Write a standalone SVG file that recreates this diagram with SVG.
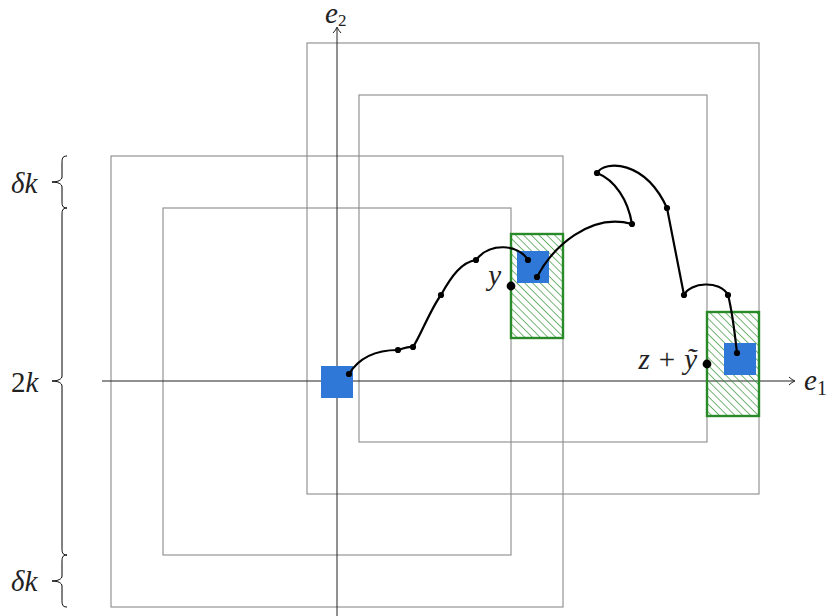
<svg xmlns="http://www.w3.org/2000/svg" width="829" height="616" viewBox="0 0 829 616">
<defs>
<style>
.box{fill:none;stroke:#8a8a8a;stroke-width:1.1}
.axis{fill:none;stroke:#222;stroke-width:1}
.hatch{fill:url(#hatch);stroke:#2a8a2a;stroke-width:2.4}
.blue{fill:#2f78d8}
.walk{fill:none;stroke:#000;stroke-width:2.2;stroke-linecap:round}
.dot{fill:#000}
.brace{fill:none;stroke:#000;stroke-width:1}
.t{font-family:"Liberation Serif","DejaVu Serif",serif;font-style:italic;font-size:29px;fill:#222}
.n{font-style:normal}
</style>
<pattern id="hatch" patternUnits="userSpaceOnUse" width="5.5" height="6" patternTransform="rotate(-45)">
<line x1="0" y1="0" x2="0" y2="6" stroke="#2a8f2a" stroke-width="1.3"/>
</pattern>
<marker id="arr" markerWidth="10" markerHeight="10" refX="7" refY="5" orient="auto" markerUnits="userSpaceOnUse">
<path d="M2,1 Q5,4 8,5 Q5,6 2,9" fill="none" stroke="#222" stroke-width="1"/>
</marker>
</defs>
<g id="boxes">
<rect id="outer-left" class="box" x="111" y="156" width="452" height="451"/>
<rect id="inner-left" class="box" x="163" y="208" width="348" height="347"/>
<rect id="outer-right" class="box" x="307" y="43" width="452" height="451"/>
<rect id="inner-right" class="box" x="359" y="95" width="348" height="347"/>
</g>
<g id="axes">
<line class="axis" x1="102" y1="381" x2="794" y2="381" marker-end="url(#arr)"/>
<line class="axis" x1="337" y1="616" x2="337" y2="28" marker-end="url(#arr)"/>
<text class="t" x="325" y="23" font-size="24">e<tspan class="n" font-size="17" dy="3">2</tspan></text>
<text class="t" x="804" y="390">e<tspan class="n" font-size="20" dy="5">1</tspan></text>
</g>
<g id="hatched">
<rect id="h1" class="hatch" x="511" y="234" width="52" height="104"/>
<rect id="h2" class="hatch" x="707" y="312" width="52" height="104"/>
</g>
<g id="squares">
<rect id="sq0" class="blue" x="321" y="366" width="32" height="32"/>
<rect id="sq1" class="blue" x="517" y="251" width="32" height="32"/>
<rect id="sq2" class="blue" x="724" y="343" width="32" height="32"/>
</g>
<g id="connectors">
<path class="walk" d="M349,374 C360,356 378,350 398,350 C403,349 407,346 413,347 C420,337 430,310 441,295 C452,275 462,262 476,260 C490,242 518,244 528,260"/>
<path class="walk" d="M537,277 C552,248 590,212 632,224 C628,200 615,180 597,173 C605,160 645,160 667,208 L684,295 C690,282 720,280 728,295 C732,310 735,335 737,353"/>
</g>
<g id="dots">
<circle class="dot" cx="349" cy="374" r="3.1"/>
<circle class="dot" cx="398" cy="350" r="3.1"/>
<circle class="dot" cx="413" cy="347" r="3.1"/>
<circle class="dot" cx="441" cy="295" r="3.1"/>
<circle class="dot" cx="476" cy="260" r="3.1"/>
<circle class="dot" cx="528" cy="260" r="3.1"/>
<circle class="dot" cx="537" cy="277" r="3.1"/>
<circle class="dot" cx="632" cy="224" r="3.1"/>
<circle class="dot" cx="597" cy="173" r="3.1"/>
<circle class="dot" cx="667" cy="208" r="3.1"/>
<circle class="dot" cx="684" cy="295" r="3.1"/>
<circle class="dot" cx="728" cy="295" r="3.1"/>
<circle class="dot" cx="737" cy="353" r="3.1"/>
</g>
<g id="point-y">
<circle class="dot" cx="511" cy="286" r="4.4"/>
<text class="t" x="501" y="285" text-anchor="end">y</text>
</g>
<g id="point-z">
<circle class="dot" cx="707" cy="364" r="4.4"/>
<text class="t" x="697" y="369" text-anchor="end">z<tspan class="n" dx="9">+</tspan><tspan dx="9">ỹ</tspan></text>
</g>
<g id="braces">
<path class="brace" d="M67,156 C62,156 62,159 62,164 L62,177 C62,180 58,182 52,182 C58,182 62,184 62,187 L62,200 C62,205 62,208 67,208"/>
<path class="brace" d="M67,208 C62,208 62,211 62,216 L62,376 C62,379 58,381 52,381 C58,381 62,383 62,386 L62,547 C62,552 62,555 67,555"/>
<path class="brace" d="M67,555 C62,555 62,558 62,563 L62,576 C62,579 58,581 52,581 C58,581 62,583 62,586 L62,599 C62,604 62,607 67,607"/>
<text class="t" x="11" y="193">δk</text>
<text class="t" x="11" y="392"><tspan class="n">2</tspan>k</text>
<text class="t" x="11" y="591">δk</text>
</g>
</svg>
